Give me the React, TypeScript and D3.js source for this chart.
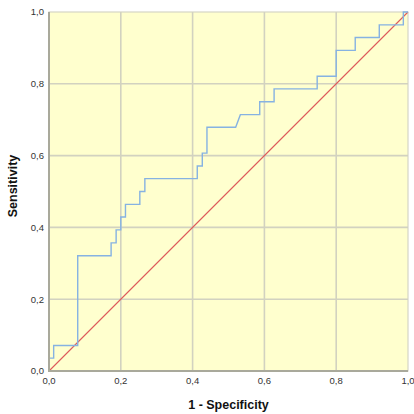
import React from "react";
import * as d3 from "d3";

// ROC curve coordinates (1 - specificity, sensitivity)
const falsePositiveRate = [
  0, 0, 0.013, 0.013, 0.08, 0.08, 0.173, 0.173, 0.187, 0.187, 0.2, 0.2,
  0.213, 0.213, 0.253, 0.253, 0.267, 0.267, 0.413, 0.413, 0.427, 0.427,
  0.44, 0.44, 0.52, 0.533, 0.587, 0.587, 0.627, 0.627, 0.747, 0.747, 0.8,
  0.8, 0.853, 0.853, 0.92, 0.92, 0.987, 0.987, 1,
];
const truePositiveRate = [
  0, 0.036, 0.036, 0.071, 0.071, 0.321, 0.321, 0.357, 0.357, 0.393, 0.393,
  0.429, 0.429, 0.464, 0.464, 0.5, 0.5, 0.536, 0.536, 0.571, 0.571, 0.607,
  0.607, 0.679, 0.679, 0.714, 0.714, 0.75, 0.75, 0.786, 0.786, 0.821, 0.821,
  0.893, 0.893, 0.929, 0.929, 0.964, 0.964, 1, 1,
];
const referenceLine = [0, 1];
const tickValues = [0, 0.2, 0.4, 0.6, 0.8, 1.0];
const tickLabels = ["0,0", "0,2", "0,4", "0,6", "0,8", "1,0"];

const W = 414;
const H = 414;
const plot = { left: 49, top: 12, right: 408, bottom: 371 };

export default function App() {
  const x = d3.scaleLinear().domain([0, 1]).range([plot.left, plot.right]);
  const y = d3.scaleLinear().domain([0, 1]).range([plot.bottom, plot.top]);

  const points = falsePositiveRate.map((f, i) => [f, truePositiveRate[i]] as [number, number]);
  const curve = d3
    .line<[number, number]>()
    .x((d) => x(d[0]))
    .y((d) => y(d[1]))(points);
  const diag = d3
    .line<number>()
    .x((d) => x(d))
    .y((d) => y(d))(referenceLine);

  const font = "'Liberation Sans', Arial, sans-serif";

  return (
    <svg
      width={W}
      height={H}
      style={{ position: "absolute", left: 0, top: 0, background: "#fff" }}
    >
      <rect
        x={plot.left}
        y={plot.top}
        width={plot.right - plot.left}
        height={plot.bottom - plot.top}
        fill="#FFFFCE"
        stroke="#D6D6C6"
        strokeWidth={1.2}
      />
      {tickValues.slice(1, -1).map((t) => (
        <g key={t}>
          <line x1={x(t)} x2={x(t)} y1={plot.top} y2={plot.bottom} stroke="#D2D2C0" strokeWidth={1.6} />
          <line x1={plot.left} x2={plot.right} y1={y(t)} y2={y(t)} stroke="#D2D2C0" strokeWidth={1.6} />
        </g>
      ))}
      <path d={diag ?? ""} fill="none" stroke="#DE5A5A" strokeWidth={1.1} />
      <path d={curve ?? ""} fill="none" stroke="#86B2E2" strokeWidth={1.4} />
      {/* axis lines */}
      <line x1={plot.left} x2={plot.left} y1={plot.top} y2={plot.bottom + 1} stroke="#A9A99B" strokeWidth={2} />
      <line x1={plot.left - 1} x2={plot.right} y1={plot.bottom} y2={plot.bottom} stroke="#A9A99B" strokeWidth={2} />
      {tickValues.map((t, i) => (
        <text
          key={"y" + t}
          x={plot.left - 5}
          y={y(t)}
          dy="0.35em"
          textAnchor="end"
          fontFamily={font}
          fontSize={9.5}
          fill="#333"
        >
          {tickLabels[i]}
        </text>
      ))}
      {tickValues.map((t, i) => (
        <text
          key={"x" + t}
          x={x(t)}
          y={plot.bottom + 13}
          textAnchor="middle"
          fontFamily={font}
          fontSize={9.5}
          fill="#333"
        >
          {tickLabels[i]}
        </text>
      ))}
      <text
        x={(plot.left + plot.right) / 2}
        y={409}
        textAnchor="middle"
        fontFamily={font}
        fontSize={12.5}
        fontWeight="bold"
        fill="#111"
      >
        1 - Specificity
      </text>
      <text
        transform={`translate(17, 186) rotate(-90)`}
        textAnchor="middle"
        fontFamily={font}
        fontSize={12.5}
        fontWeight="bold"
        fill="#111"
      >
        Sensitivity
      </text>
    </svg>
  );
}
